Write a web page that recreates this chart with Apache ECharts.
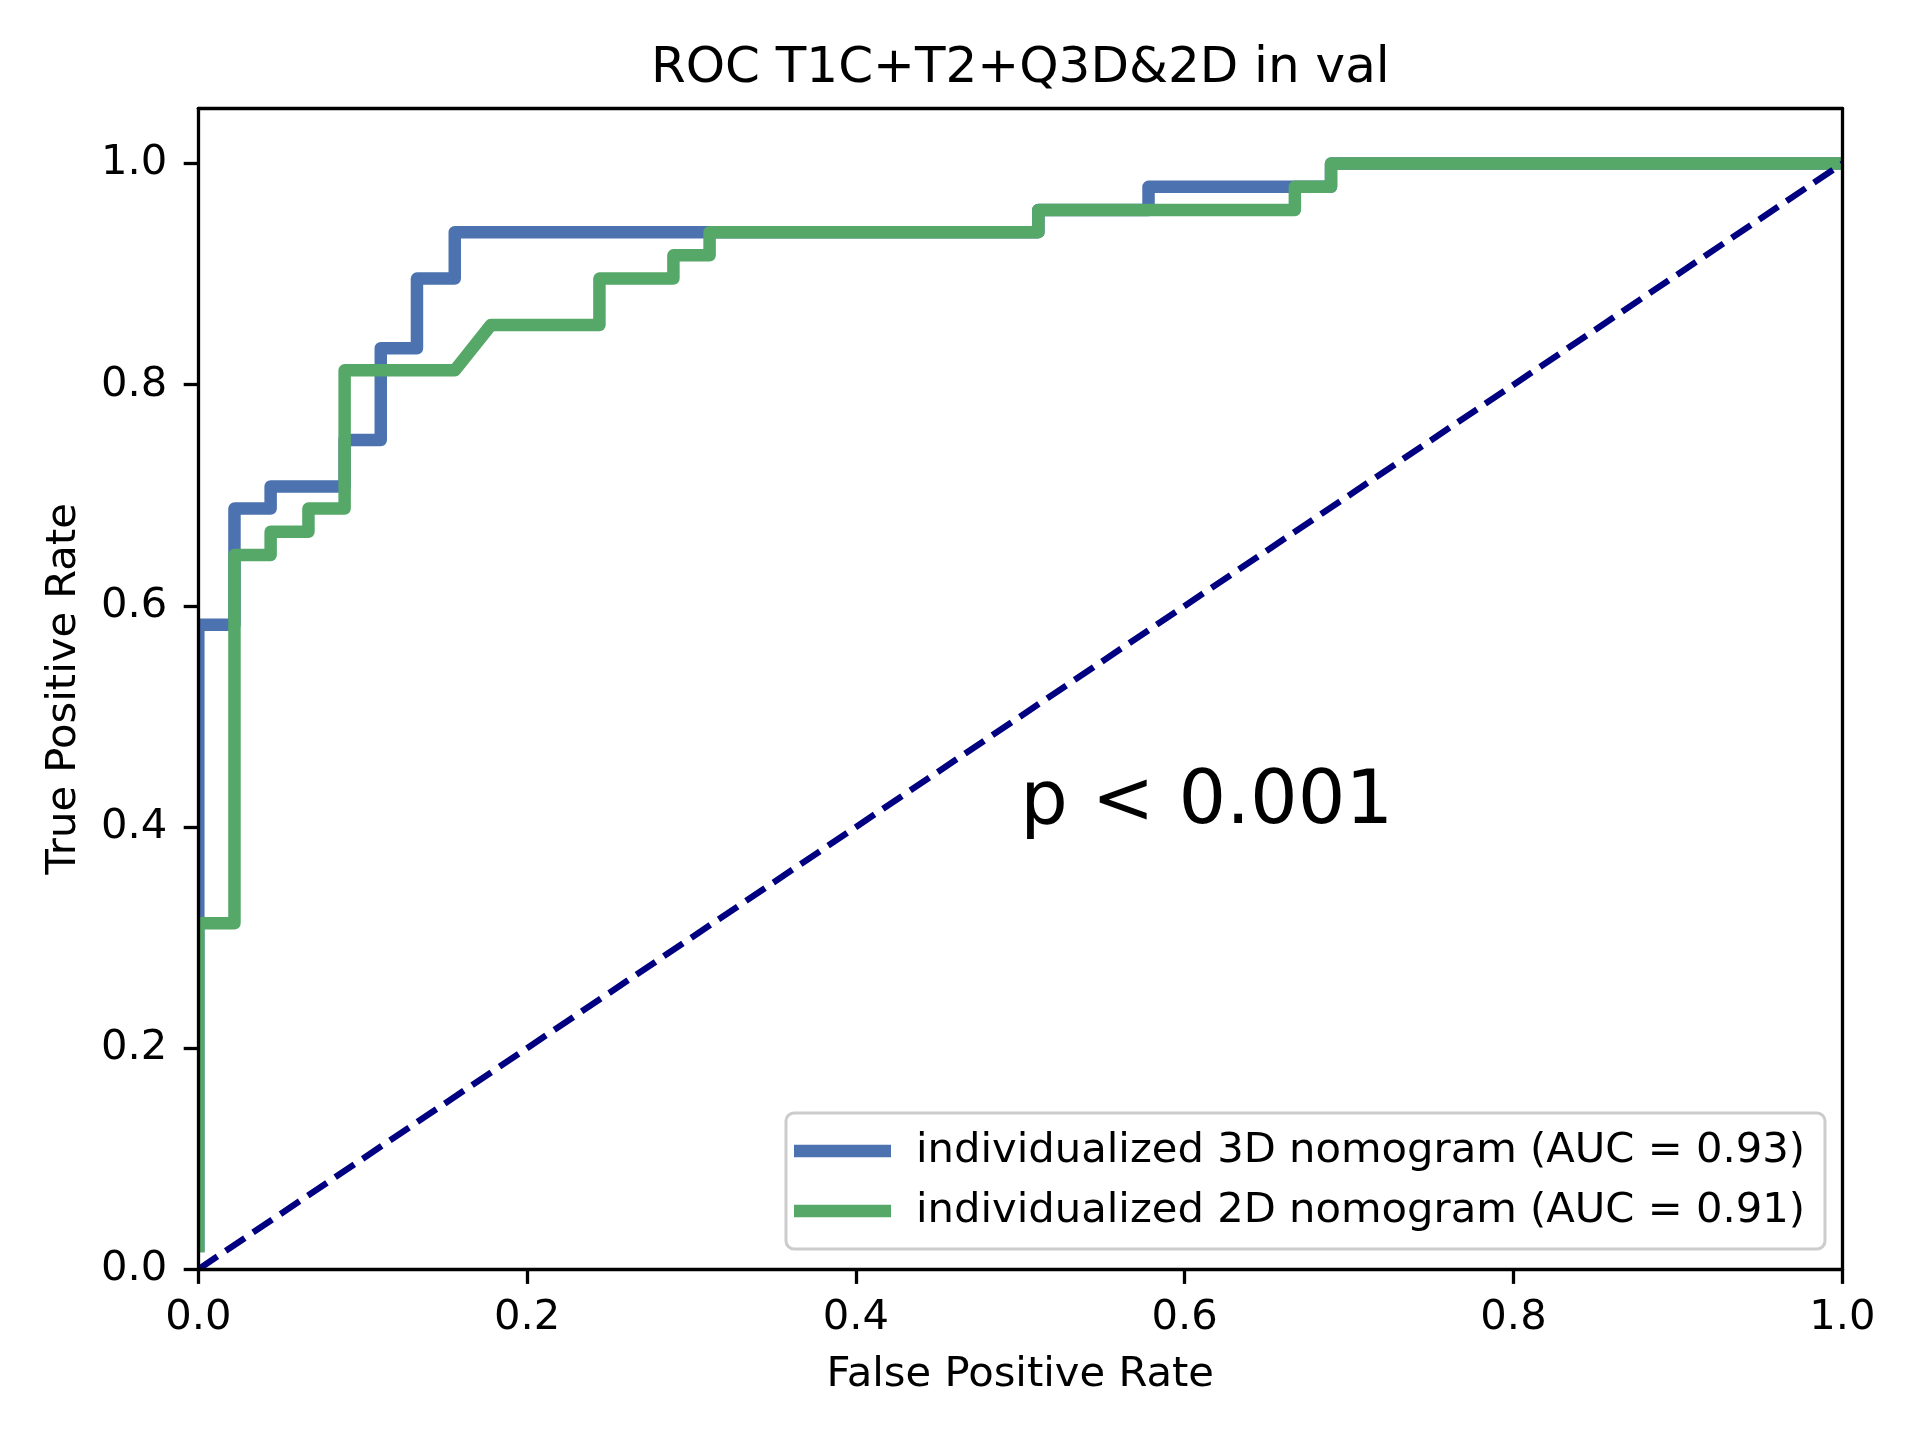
<!DOCTYPE html>
<html>
<head>
<meta charset="utf-8">
<script src="https://cdn.jsdelivr.net/npm/echarts@6/dist/echarts.min.js"></script>
<style>
html,body{margin:0;padding:0;background:#fff;}
#chart{width:1920px;height:1440px;}
</style>
</head>
<body>
<div id="chart"></div>
<script>
// ---- data ----
const titleText = 'ROC T1C+T2+Q3D&2D in val';
const xName = 'False Positive Rate';
const yName = 'True Positive Rate';
const annotation = 'p < 0.001';
const annotationPos = [0.5, 0.4];

const name3D = 'individualized 3D nomogram (AUC = 0.93)';
const fpr3D = [0, 0, 0.022, 0.022, 0.044, 0.044, 0.089, 0.089, 0.111, 0.111, 0.133, 0.133, 0.156, 0.156, 0.511, 0.511, 0.578, 0.578, 0.689, 0.689, 1.0];
const tpr3D = [0.021, 0.583, 0.583, 0.688, 0.688, 0.708, 0.708, 0.750, 0.750, 0.833, 0.833, 0.896, 0.896, 0.938, 0.938, 0.958, 0.958, 0.979, 0.979, 1.0, 1.0];

const name2D = 'individualized 2D nomogram (AUC = 0.91)';
const fpr2D = [0, 0, 0.022, 0.022, 0.044, 0.044, 0.067, 0.067, 0.089, 0.089, 0.156, 0.178, 0.244, 0.244, 0.289, 0.289, 0.311, 0.311, 0.511, 0.511, 0.667, 0.667, 0.689, 0.689, 1.0];
const tpr2D = [0.021, 0.313, 0.313, 0.646, 0.646, 0.667, 0.667, 0.688, 0.688, 0.813, 0.813, 0.854, 0.854, 0.896, 0.896, 0.917, 0.917, 0.938, 0.938, 0.958, 0.958, 0.979, 0.979, 1.0, 1.0];

const diagX = [0, 1];
const diagY = [0, 1];

const xTicks = [0, 0.2, 0.4, 0.6, 0.8, 1.0];
const yTicks = [0, 0.2, 0.4, 0.6, 0.8, 1.0];

// ---- build ----
const zip = (a, b) => a.map((v, i) => [v, b[i]]);
const FONT = 'DejaVu Sans';
const chart = echarts.init(document.getElementById('chart'), null, {renderer: 'canvas'});

const G = {left: 198.3, top: 108.3, width: 1644, height: 1161};
const baseAxisLine = {show: true, onZero: false, lineStyle: {color: '#000', width: 3.3}};

const option = {
  backgroundColor: '#fff',
  animation: false,
  grid: {left: G.left, top: G.top, width: G.width, height: G.height, containLabel: false},
  xAxis: [{
    type: 'value', min: 0, max: 1, interval: 0.2, position: 'bottom', z: 10,
    axisLine: baseAxisLine,
    axisTick: {show: true, inside: false, length: 14.6, lineStyle: {color: '#000', width: 3.3}, customValues: xTicks},
    axisLabel: {show: true, margin: 28, fontFamily: FONT, fontSize: 41.7, color: '#000',
      customValues: xTicks, formatter: v => v.toFixed(1)},
    splitLine: {show: false},
    name: xName, nameLocation: 'middle', nameGap: 85,
    nameTextStyle: {fontFamily: FONT, fontSize: 41.7, color: '#000'}
  }, {
    type: 'value', min: 0, max: 1, position: 'top', z: 10,
    axisLine: baseAxisLine, axisTick: {show: false}, axisLabel: {show: false}, splitLine: {show: false}
  }],
  yAxis: [{
    type: 'value', min: 0, max: 1.05, interval: 0.2, position: 'left', z: 10,
    axisLine: baseAxisLine,
    axisTick: {show: true, inside: false, length: 14.6, lineStyle: {color: '#000', width: 3.3}, customValues: yTicks},
    axisLabel: {show: true, margin: 31, fontFamily: FONT, fontSize: 41.7, color: '#000',
      customValues: yTicks, formatter: v => v.toFixed(1)},
    splitLine: {show: false},
    name: yName, nameLocation: 'middle', nameGap: 113, nameRotate: 90,
    nameTextStyle: {fontFamily: FONT, fontSize: 41.7, color: '#000'}
  }, {
    type: 'value', min: 0, max: 1.05, position: 'right', z: 10,
    axisLine: baseAxisLine, axisTick: {show: false}, axisLabel: {show: false}, splitLine: {show: false}
  }],
  legend: {
    orient: 'vertical',
    left: 786, top: 1113, z: 20,
    padding: [17, 20, 17, 8],
    itemGap: 18,
    itemWidth: 97, itemHeight: 12.5,
    icon: 'rect',
    backgroundColor: 'rgba(255,255,255,0.8)',
    borderColor: '#cccccc', borderWidth: 3, borderRadius: 8,
    textStyle: {fontFamily: FONT, fontSize: 41.7, color: '#000', padding: [0, 0, 0, 20]},
    data: [name3D, name2D]
  },
  series: [{
    name: name3D, type: 'line', data: zip(fpr3D, tpr3D),
    xAxisIndex: 0, yAxisIndex: 0,
    showSymbol: false, symbol: 'none', clip: true, z: 2,
    color: '#4C72B0', itemStyle: {color: '#4C72B0'},
    lineStyle: {color: '#4C72B0', width: 12.5, join: 'round', cap: 'square'}
  }, {
    name: name2D, type: 'line', data: zip(fpr2D, tpr2D),
    xAxisIndex: 0, yAxisIndex: 0,
    showSymbol: false, symbol: 'none', clip: true, z: 3,
    color: '#55A868', itemStyle: {color: '#55A868'},
    lineStyle: {color: '#55A868', width: 12.5, join: 'round', cap: 'square'}
  }, {
    name: 'diag', type: 'line', data: zip(diagX, diagY),
    xAxisIndex: 0, yAxisIndex: 0,
    showSymbol: false, symbol: 'none', clip: true, z: 4,
    color: '#000080',
    lineStyle: {color: '#000080', width: 6.25, type: [23, 10]}
  }]
};
chart.setOption(option);

const p = chart.convertToPixel({gridIndex: 0}, annotationPos);
const S = 10; // strip thickness to mask line overflow outside the axes box
const R = G.left + G.width, B = G.top + G.height;
const strip = (x, y, w, h) => ({type: 'rect', z: 5, silent: true,
  shape: {x: x, y: y, width: w, height: h}, style: {fill: '#fff'}});
chart.setOption({
  graphic: [
    strip(G.left - S, G.top - S, S, G.height + 2 * S),
    strip(R, G.top - S, S, G.height + 2 * S),
    strip(G.left - S, G.top - S, G.width + 2 * S, S),
    strip(G.left - S, B, G.width + 2 * S, S),
    {
      type: 'text', x: 1020.3, y: 69, z: 10,
      style: {text: titleText, fontFamily: FONT, fontSize: 50, fill: '#000',
        align: 'center', verticalAlign: 'middle'}
    },
    {
      type: 'text', x: p[0], y: p[1] - 23, z: 10,
      style: {text: annotation, fontFamily: FONT, fontSize: 75, fill: '#000',
        align: 'left', verticalAlign: 'middle'}
    }
  ]
});
</script>
</body>
</html>
